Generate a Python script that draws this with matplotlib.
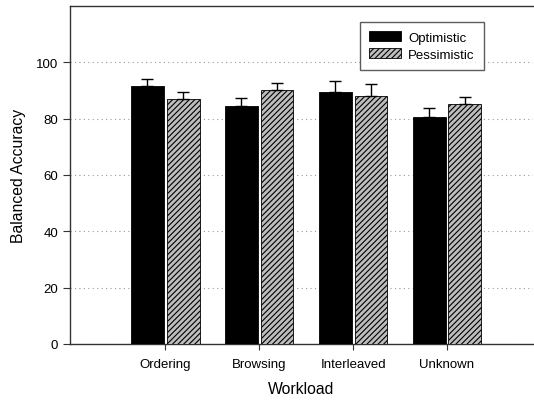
import matplotlib
matplotlib.use("Agg")
import matplotlib.pyplot as plt
import numpy as np

plt.rcParams['font.family'] = ['Liberation Sans', 'DejaVu Sans']
plt.rcParams['hatch.linewidth'] = 0.8

categories = ["Ordering", "Browsing", "Interleaved", "Unknown"]
optimistic = [91.5, 84.3, 89.3, 80.6]
optimistic_err = [2.5, 3.0, 4.0, 3.3]
pessimistic = [86.8, 90.2, 88.1, 85.2]
pessimistic_err = [2.7, 2.5, 4.0, 2.5]
yticks = [0, 20, 40, 60, 80, 100]

fig = plt.figure(figsize=(5.34, 4.02), dpi=100)
ax = fig.add_axes([0.131, 0.142, 0.867, 0.841])

x = np.arange(1, len(categories) + 1)
w = 0.35
err_kw = dict(ecolor='black', elinewidth=1.0, capsize=4, capthick=1.0)
ax.bar(x, optimistic, width=-w, align='edge', color='black', edgecolor='black',
       linewidth=0.6, yerr=[np.zeros(4), optimistic_err], error_kw=err_kw,
       label='Optimistic', zorder=3)
ax.bar(x + 0.03, pessimistic, width=w, align='edge', color='#bdbdbd', edgecolor='black',
       hatch='//////', linewidth=0.6, yerr=[np.zeros(4), pessimistic_err], error_kw=err_kw,
       label='Pessimistic', zorder=3)

ax.set_xlim(0, 4.93)
ax.set_ylim(0, 120)
ax.set_yticks(yticks)
ax.set_xticks(x + 0.015)
ax.set_xticklabels(categories, fontsize=9.5)
ax.tick_params(axis='y', labelsize=9.5, direction='out', length=5, color='#333333')
ax.tick_params(axis='x', direction='out', length=4, color='#333333', pad=6)
ax.yaxis.grid(True, linestyle=(0, (1, 3)), color='#999999', linewidth=0.8, zorder=0)
ax.set_axisbelow(True)

for s in ['left', 'bottom', 'top']:
    ax.spines[s].set_color('#333333')
    ax.spines[s].set_linewidth(1.0)
ax.spines['right'].set_visible(False)

ax.set_xlabel('Workload', fontsize=11.3, labelpad=8)
ax.set_ylabel('Balanced Accuracy', fontsize=11.3, labelpad=7)

leg = ax.legend(loc='upper left', bbox_to_anchor=(0.626, 0.953), fontsize=9.5,
                frameon=True, fancybox=False, edgecolor='#333333',
                handlelength=2.4, handleheight=0.8, borderpad=0.7,
                labelspacing=0.35, handletextpad=0.55, borderaxespad=0)
leg.get_frame().set_linewidth(1.0)

fig.savefig('out.png', dpi=100)
